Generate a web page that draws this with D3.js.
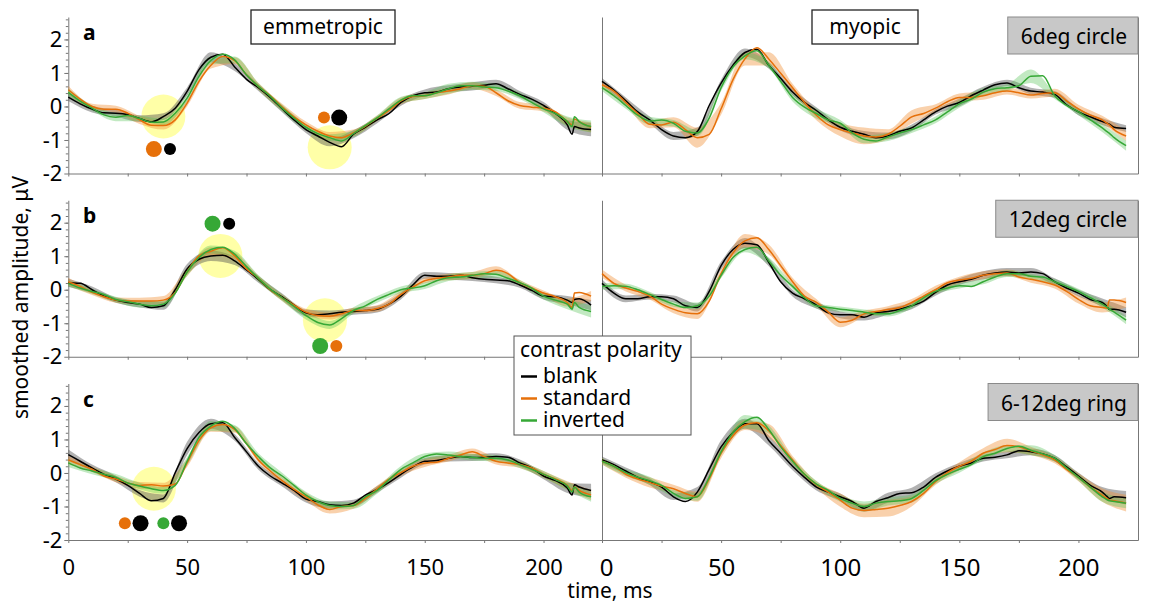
<!DOCTYPE html>
<html>
<head>
<meta charset="utf-8">
<script src="https://cdn.jsdelivr.net/npm/d3@7"></script>
<style>
  body { margin: 0; background: #fff; }
  svg { display: block; font-family: "Noto Sans", "Open Sans", sans-serif; }
</style>
</head>
<body>
<div id="plot"></div>
<script>
// sample times (ms)
var times = [0,5,10,15,20,25,30,35,40,45, 50,55,60,65,70,75,80,85,90,95,
  100,105,110,115,120,125,130,135,140,145, 150,155,160,165,170,175,180,185,190,195,
  200,205,210,212,213,215,220];
var bandTimes = [0,10,20,30,40,50,60,70,80,90,100,110,120,130,140,150,160,170,180,190,200,210,220];

var conditions = ["blank", "standard", "inverted"];
var groups = ["emmetropic", "myopic"];
var stimuli = ["6deg circle", "12deg circle", "6-12deg ring"];
var rowLetters = ["a", "b", "c"];
var yTicks = [-2, -1, 0, 1, 2];
var xTicks = [0, 25, 50, 75, 100, 125, 150, 175, 200];

// ---- emmetropic, 6deg circle (a)
var emm_a_blank = [0.28,0.08,-0.08,-0.19,-0.20,-0.24,-0.36,-0.46,-0.30,-0.05,
  0.45,1.10,1.47,1.56,1.18,0.81,0.56,0.27,-0.07,-0.40,
  -0.69,-0.88,-1.07,-1.20,-0.83,-0.62,-0.40,-0.21,0.12,0.32,
  0.41,0.43,0.53,0.58,0.60,0.63,0.68,0.53,0.36,0.22,
  0.03,-0.21,-0.55,-0.83,-0.60,-0.64,-0.69];
var emm_a_standard = [0.50,0.22,0.00,-0.08,-0.08,-0.20,-0.40,-0.56,-0.57,-0.40,
  0.10,0.75,1.23,1.49,1.37,0.94,0.60,0.32,-0.02,-0.31,
  -0.55,-0.74,-0.88,-0.93,-0.79,-0.59,-0.35,-0.12,0.17,0.30,
  0.32,0.41,0.46,0.53,0.62,0.60,0.41,0.17,0.03,-0.02,
  -0.05,-0.16,-0.45,-0.55,-0.37,-0.45,-0.62];
var emm_a_inverted = [0.42,0.16,-0.05,-0.25,-0.32,-0.27,-0.36,-0.47,-0.46,-0.20,
  0.25,0.90,1.37,1.56,1.39,0.94,0.60,0.30,-0.05,-0.35,
  -0.62,-0.81,-0.93,-1.03,-0.81,-0.57,-0.34,-0.07,0.19,0.32,
  0.32,0.41,0.53,0.62,0.62,0.58,0.56,0.46,0.32,0.12,
  -0.07,-0.21,-0.45,-0.60,-0.31,-0.45,-0.60];

// ---- emmetropic, 12deg circle (b)
var emm_b_blank = [0.21,0.19,0.00,-0.19,-0.31,-0.38,-0.43,-0.53,-0.48,0.00,
  0.62,0.91,1.01,1.03,0.86,0.59,0.31,0.00,-0.21,-0.46,
  -0.69,-0.75,-0.72,-0.67,-0.65,-0.62,-0.58,-0.43,-0.19,0.14,
  0.43,0.40,0.40,0.43,0.36,0.31,0.29,0.27,0.14,-0.02,
  -0.19,-0.21,-0.31,-0.38,-0.29,-0.27,-0.46];
var emm_b_standard = [0.24,0.10,-0.08,-0.21,-0.31,-0.34,-0.34,-0.34,-0.31,-0.08,
  0.53,1.01,1.15,1.25,1.01,0.62,0.34,0.00,-0.24,-0.46,
  -0.67,-0.77,-0.79,-0.72,-0.62,-0.62,-0.56,-0.43,-0.14,0.08,
  0.27,0.34,0.38,0.43,0.43,0.48,0.58,0.48,0.21,0.05,
  -0.10,-0.21,-0.38,-0.53,-0.10,-0.08,-0.19];
var emm_b_inverted = [0.19,0.05,-0.05,-0.14,-0.29,-0.36,-0.43,-0.48,-0.43,-0.10,
  0.53,0.96,1.20,1.27,1.06,0.69,0.34,0.02,-0.24,-0.50,
  -0.77,-0.98,-1.05,-0.86,-0.62,-0.48,-0.29,-0.14,0.00,0.05,
  0.12,0.27,0.36,0.38,0.43,0.48,0.46,0.34,0.21,0.05,
  -0.19,-0.31,-0.43,-0.58,-0.38,-0.53,-0.65];

// ---- emmetropic, 6-12deg ring (c)
var emm_c_blank = [0.55,0.35,0.15,-0.04,-0.18,-0.37,-0.61,-0.83,-0.76,0.01,
  0.73,1.21,1.47,1.50,1.06,0.63,0.20,-0.09,-0.30,-0.52,
  -0.78,-0.85,-0.95,-0.97,-0.90,-0.66,-0.49,-0.28,-0.04,0.18,
  0.35,0.37,0.44,0.49,0.46,0.47,0.49,0.47,0.30,0.15,
  -0.09,-0.23,-0.45,-0.66,-0.35,-0.42,-0.52];
var emm_c_standard = [0.39,0.25,0.11,-0.09,-0.18,-0.30,-0.37,-0.35,-0.39,-0.33,
  0.30,0.97,1.35,1.45,1.30,0.87,0.39,0.06,-0.23,-0.49,
  -0.71,-0.95,-1.09,-1.00,-0.97,-0.76,-0.47,-0.18,0.01,0.20,
  0.30,0.32,0.44,0.54,0.63,0.49,0.35,0.30,0.25,0.15,
  -0.04,-0.18,-0.37,-0.52,-0.42,-0.52,-0.66];
var emm_c_inverted = [0.30,0.15,0.06,-0.04,-0.13,-0.30,-0.39,-0.47,-0.52,-0.37,
  0.35,1.06,1.40,1.54,1.33,0.87,0.49,0.15,-0.09,-0.37,
  -0.66,-0.85,-0.97,-1.00,-0.97,-0.71,-0.52,-0.20,0.11,0.30,
  0.49,0.57,0.54,0.49,0.47,0.44,0.44,0.39,0.25,0.11,
  -0.04,-0.20,-0.39,-0.57,-0.42,-0.57,-0.71];

// ---- myopic, 6deg circle
var myo_a_blank = [0.75,0.49,0.17,-0.16,-0.40,-0.69,-0.88,-0.93,-0.75,0.03,
  0.70,1.23,1.61,1.71,1.23,0.84,0.43,0.12,-0.12,-0.40,
  -0.62,-0.74,-0.83,-0.93,-0.88,-0.74,-0.64,-0.40,-0.16,0.01,
  0.12,0.32,0.49,0.65,0.70,0.56,0.46,0.43,0.36,0.05,
  -0.16,-0.31,-0.45,-0.50,-0.53,-0.62,-0.66];
var myo_a_standard = [0.65,0.46,0.12,-0.21,-0.53,-0.55,-0.47,-0.69,-0.93,-0.83,
  -0.07,0.80,1.42,1.75,1.42,0.99,0.56,0.12,-0.26,-0.55,
  -0.69,-0.79,-0.88,-0.91,-0.83,-0.59,-0.31,-0.21,-0.05,0.14,
  0.27,0.27,0.32,0.41,0.46,0.41,0.34,0.39,0.41,0.17,
  -0.07,-0.26,-0.40,-0.50,-0.55,-0.69,-0.88];
var myo_a_inverted = [0.56,0.32,0.03,-0.26,-0.43,-0.40,-0.50,-0.74,-0.79,-0.35,
  0.56,1.18,1.51,1.66,1.23,0.75,0.27,-0.02,-0.21,-0.40,
  -0.50,-0.79,-0.98,-1.03,-0.91,-0.79,-0.69,-0.55,-0.40,-0.16,
  0.08,0.22,0.43,0.53,0.56,0.62,0.90,0.92,0.32,0.03,
  -0.16,-0.40,-0.64,-0.75,-0.80,-0.93,-1.17];

// ---- myopic, 12deg circle
var myo_b_blank = [0.19,-0.10,-0.27,-0.27,-0.21,-0.21,-0.27,-0.48,-0.53,-0.05,
  0.72,1.20,1.39,1.34,0.82,0.24,-0.10,-0.27,-0.46,-0.69,
  -0.75,-0.75,-0.82,-0.69,-0.65,-0.58,-0.48,-0.34,-0.08,0.14,
  0.24,0.31,0.43,0.50,0.53,0.50,0.53,0.48,0.24,0.05,
  -0.10,-0.29,-0.38,-0.50,-0.59,-0.58,-0.67];
var myo_b_standard = [0.48,0.19,0.05,-0.05,-0.19,-0.43,-0.58,-0.69,-0.72,-0.34,
  0.48,1.10,1.46,1.55,1.20,0.72,0.24,-0.19,-0.38,-0.67,
  -0.97,-0.91,-0.72,-0.65,-0.59,-0.53,-0.38,-0.19,0.00,0.21,
  0.29,0.34,0.43,0.48,0.50,0.38,0.31,0.24,0.14,-0.05,
  -0.29,-0.48,-0.53,-0.55,-0.31,-0.31,-0.38];
var myo_b_inverted = [0.10,0.12,0.10,0.00,-0.14,-0.29,-0.43,-0.53,-0.48,-0.19,
  0.43,0.96,1.20,1.27,0.86,0.43,0.10,-0.24,-0.48,-0.53,
  -0.58,-0.62,-0.67,-0.72,-0.72,-0.62,-0.48,-0.24,-0.05,0.05,
  0.12,0.10,0.24,0.38,0.48,0.48,0.40,0.38,0.24,0.10,
  -0.05,-0.24,-0.43,-0.52,-0.58,-0.67,-0.91];

// ---- myopic, 6-12deg ring
var myo_c_blank = [0.39,0.25,0.06,-0.13,-0.26,-0.42,-0.71,-0.85,-0.57,0.11,
  0.78,1.21,1.47,1.47,0.97,0.59,0.20,-0.13,-0.42,-0.57,
  -0.71,-0.85,-1.05,-0.85,-0.74,-0.61,-0.59,-0.42,-0.13,0.06,
  0.20,0.30,0.44,0.47,0.54,0.66,0.63,0.57,0.44,0.18,
  -0.09,-0.37,-0.57,-0.70,-0.76,-0.71,-0.74];
var myo_c_standard = [0.35,0.20,-0.04,-0.18,-0.28,-0.39,-0.47,-0.61,-0.71,-0.18,
  0.59,1.11,1.43,1.50,1.26,0.82,0.39,-0.04,-0.35,-0.57,
  -0.81,-1.05,-1.12,-1.09,-1.05,-0.97,-0.85,-0.61,-0.26,0.01,
  0.20,0.35,0.59,0.70,0.82,0.78,0.66,0.54,0.39,0.11,
  -0.13,-0.42,-0.66,-0.76,-0.81,-0.83,-0.90];
var myo_c_inverted = [0.35,0.20,0.01,-0.13,-0.23,-0.37,-0.61,-0.76,-0.71,-0.13,
  0.63,1.21,1.53,1.66,1.30,0.78,0.35,-0.04,-0.33,-0.52,
  -0.76,-0.90,-1.00,-0.90,-0.85,-0.83,-0.76,-0.52,-0.23,-0.04,
  0.11,0.25,0.49,0.59,0.73,0.80,0.68,0.57,0.44,0.15,
  -0.13,-0.42,-0.71,-0.80,-0.83,-0.85,-0.90];

// spread (half width of the shaded band) at bandTimes
var emm_a_blank_sd    = [0.12,0.10,0.10,0.10,0.10,0.12,0.15,0.12,0.10,0.10,0.10,0.12,0.12,0.10,0.10,0.10,0.10,0.12,0.12,0.10,0.10,0.15,0.20];
var emm_a_standard_sd = [0.12,0.08,0.10,0.12,0.12,0.10,0.10,0.10,0.10,0.10,0.10,0.12,0.10,0.08,0.10,0.10,0.10,0.10,0.10,0.10,0.10,0.12,0.15];
var emm_a_inverted_sd = [0.12,0.08,0.12,0.08,0.10,0.12,0.12,0.10,0.10,0.10,0.10,0.10,0.10,0.08,0.10,0.10,0.15,0.12,0.10,0.10,0.10,0.15,0.18];
var emm_b_blank_sd    = [0.12,0.10,0.08,0.10,0.12,0.15,0.15,0.12,0.10,0.10,0.10,0.10,0.10,0.10,0.10,0.10,0.10,0.10,0.10,0.08,0.10,0.12,0.15];
var emm_b_standard_sd = [0.12,0.08,0.08,0.10,0.12,0.12,0.12,0.10,0.08,0.10,0.10,0.10,0.08,0.10,0.10,0.08,0.10,0.10,0.12,0.08,0.08,0.12,0.15];
var emm_b_inverted_sd = [0.10,0.08,0.08,0.10,0.10,0.12,0.12,0.10,0.10,0.10,0.12,0.12,0.10,0.10,0.10,0.10,0.10,0.10,0.10,0.08,0.10,0.15,0.18];
var emm_c_blank_sd    = [0.15,0.10,0.10,0.10,0.12,0.20,0.15,0.10,0.10,0.10,0.10,0.10,0.10,0.10,0.10,0.10,0.10,0.10,0.10,0.10,0.10,0.15,0.20];
var emm_c_standard_sd = [0.12,0.08,0.10,0.10,0.10,0.12,0.12,0.10,0.08,0.10,0.12,0.12,0.10,0.10,0.10,0.12,0.10,0.10,0.10,0.10,0.10,0.12,0.15];
var emm_c_inverted_sd = [0.12,0.10,0.10,0.10,0.10,0.12,0.15,0.10,0.10,0.10,0.10,0.12,0.10,0.10,0.10,0.10,0.10,0.10,0.10,0.10,0.10,0.12,0.15];
var myo_a_blank_sd    = [0.10,0.10,0.10,0.12,0.12,0.10,0.12,0.10,0.10,0.10,0.10,0.10,0.10,0.10,0.08,0.12,0.10,0.10,0.10,0.10,0.10,0.10,0.10];
var myo_a_standard_sd = [0.12,0.10,0.12,0.15,0.30,0.18,0.20,0.20,0.12,0.15,0.20,0.25,0.15,0.20,0.12,0.12,0.12,0.10,0.10,0.12,0.12,0.12,0.15];
var myo_a_inverted_sd = [0.10,0.10,0.12,0.10,0.10,0.10,0.10,0.10,0.12,0.15,0.10,0.12,0.12,0.10,0.10,0.12,0.12,0.10,0.20,0.10,0.10,0.12,0.15];
var myo_b_blank_sd    = [0.12,0.10,0.08,0.10,0.12,0.12,0.15,0.12,0.10,0.10,0.10,0.10,0.10,0.10,0.10,0.10,0.12,0.12,0.12,0.10,0.10,0.12,0.15];
var myo_b_standard_sd = [0.12,0.10,0.10,0.12,0.15,0.12,0.20,0.15,0.12,0.10,0.15,0.10,0.10,0.10,0.12,0.10,0.12,0.10,0.10,0.10,0.12,0.15,0.15];
var myo_b_inverted_sd = [0.10,0.08,0.08,0.08,0.10,0.08,0.08,0.10,0.08,0.08,0.08,0.08,0.08,0.08,0.08,0.08,0.08,0.10,0.08,0.08,0.08,0.10,0.12];
var myo_c_blank_sd    = [0.10,0.10,0.10,0.10,0.15,0.20,0.15,0.15,0.12,0.10,0.10,0.10,0.15,0.15,0.12,0.10,0.10,0.10,0.10,0.10,0.10,0.15,0.20];
var myo_c_standard_sd = [0.10,0.10,0.15,0.12,0.15,0.15,0.15,0.20,0.12,0.10,0.20,0.20,0.25,0.15,0.10,0.12,0.15,0.20,0.12,0.10,0.12,0.20,0.25];
var myo_c_inverted_sd = [0.10,0.10,0.12,0.10,0.12,0.10,0.20,0.12,0.10,0.10,0.10,0.15,0.12,0.12,0.10,0.10,0.12,0.10,0.15,0.10,0.10,0.15,0.15];

// yellow highlighted windows (emmetropic panels)
var hlRow   = [0, 0, 1, 1, 2];
var hlTime  = [40, 110, 64, 108, 36];
var hlValue = [-0.30, -1.22, 1.01, -0.91, -0.47];

// significance dots
var dotRow   = [0, 0, 0, 0, 1, 1, 1, 1, 2, 2, 2, 2];
var dotTime  = [36, 42.8, 107.6, 114, 60.7, 67.7, 106, 112.8, 23.8, 30.4, 40, 46.6];
var dotValue = [-1.27, -1.27, -0.33, -0.33, 1.97, 1.97, -1.68, -1.68, -1.5, -1.5, -1.5, -1.5];
var dotCond  = ["standard","blank","standard","blank","inverted","blank","inverted","standard","standard","blank","inverted","blank"];
var dotLarge = [1, 0, 0, 1, 1, 0, 1, 0, 0, 1, 0, 1];

var meanData = [
  [[emm_a_blank, emm_a_standard, emm_a_inverted], [myo_a_blank, myo_a_standard, myo_a_inverted]],
  [[emm_b_blank, emm_b_standard, emm_b_inverted], [myo_b_blank, myo_b_standard, myo_b_inverted]],
  [[emm_c_blank, emm_c_standard, emm_c_inverted], [myo_c_blank, myo_c_standard, myo_c_inverted]]
];
var sdData = [
  [[emm_a_blank_sd, emm_a_standard_sd, emm_a_inverted_sd], [myo_a_blank_sd, myo_a_standard_sd, myo_a_inverted_sd]],
  [[emm_b_blank_sd, emm_b_standard_sd, emm_b_inverted_sd], [myo_b_blank_sd, myo_b_standard_sd, myo_b_inverted_sd]],
  [[emm_c_blank_sd, emm_c_standard_sd, emm_c_inverted_sd], [myo_c_blank_sd, myo_c_standard_sd, myo_c_inverted_sd]]
];

var lineColor = {blank: "#000000", standard: "#e6700a", inverted: "#36a836"};
var bandColor = {blank: "#555555", standard: "#f08c30", inverted: "#50c050"};
var bandOpacity = {blank: 0.45, standard: 0.4, inverted: 0.35};
var axisColor = "#777";
var fontFam = '"Noto Sans", "Open Sans", sans-serif';

var svg = d3.select("#plot").append("svg").attr("width", 1149).attr("height", 606);

const rowTop = [17, 200.25, 383.5];
const rowH = 156.5;
const xScales = [
  d3.scaleLinear().domain([0, 224.6]).range([68.3, 602]),
  d3.scaleLinear().domain([0, 225]).range([602, 1138])
];

function styleAxis(g, size) {
  g.selectAll("path, line").attr("stroke", axisColor).attr("stroke-width", 1);
  g.selectAll("text").attr("fill", "#000").style("font-family", fontFam).style("font-size", size + "px");
}

for (var r = 0; r < 3; r++) {
  var y = d3.scaleLinear().domain([-2, 2.67]).range([rowTop[r] + rowH, rowTop[r]]);
  var bottom = rowTop[r] + rowH;

  // y axis with labels on the left panel
  var yAxis = d3.axisLeft(y).tickValues(yTicks).tickSize(4).tickSizeOuter(0).tickPadding(2).tickFormat(function(d) { return String(d); });
  var gy = svg.append("g").attr("transform", "translate(" + xScales[0](0) + ",0)").call(yAxis);
  styleAxis(gy, 22);
  var minor = d3.range(-18, 27, 2).map(function(d) { return d / 10; });
  var gym = svg.append("g").attr("transform", "translate(" + xScales[0](0) + ",0)")
    .call(d3.axisLeft(y).tickValues(minor).tickSize(2.5).tickFormat(""));
  gym.select(".domain").remove();
  styleAxis(gym, 10);

  // right panel frame lines
  svg.append("g").attr("transform", "translate(" + xScales[1](0) + ",0)")
    .call(d3.axisLeft(y).tickValues([]).tickSizeOuter(0)).call(styleAxis, 10);
  svg.append("g").attr("transform", "translate(" + xScales[1].range()[1] + ",0)")
    .call(d3.axisRight(y).tickValues([]).tickSizeOuter(0)).call(styleAxis, 10);

  // x axes
  for (var g = 0; g < 2; g++) {
    var xa = d3.axisBottom(xScales[g]).tickValues(xTicks).tickSize(3).tickSizeOuter(0).tickPadding(16)
      .tickFormat(r === 2 ? function(d) { return d % 50 === 0 ? d : ""; } : function() { return ""; });
    var gx = svg.append("g").attr("transform", "translate(0," + bottom + ")").call(xa);
    styleAxis(gx, g === 0 ? 22 : 24);
    if (r === 2 && g === 1) gx.selectAll(".tick text").filter(function(d) { return d === 0; }).attr("dx", 4);
  }

  // panel letter
  svg.append("text").attr("x", 83).attr("y", rowTop[r] + 23).text(rowLetters[r])
    .style("font-family", fontFam).style("font-size", "21px").style("font-weight", "bold");

  for (var g = 0; g < 2; g++) {
    var x = xScales[g];
    var panel = svg.append("g");

    // yellow windows below the traces
    if (g === 0) {
      hlRow.forEach(function(row, i) {
        if (row !== r) return;
        panel.append("circle").attr("cx", x(hlTime[i])).attr("cy", y(hlValue[i])).attr("r", 22)
          .attr("fill", "#ffff50").attr("opacity", 0.5);
      });
    }

    conditions.forEach(function(c, ci) {
      var mean = meanData[r][g][ci];
      var sd = sdData[r][g][ci];
      var bandPts = bandTimes.map(function(t, i) {
        return {t: t, m: mean[times.indexOf(t)], s: sd[i]};
      });
      var area = d3.area().curve(d3.curveMonotoneX)
        .x(function(d) { return x(d.t); })
        .y0(function(d) { return y(d.m - d.s); })
        .y1(function(d) { return y(d.m + d.s); });
      panel.append("path").datum(bandPts).attr("d", area)
        .attr("fill", bandColor[c]).attr("opacity", bandOpacity[c]);
    });

    conditions.forEach(function(c, ci) {
      var mean = meanData[r][g][ci];
      var line = d3.line().curve(d3.curveMonotoneX)
        .x(function(d, i) { return x(times[i]); })
        .y(function(d) { return y(d); });
      panel.append("path").datum(mean).attr("d", line)
        .attr("fill", "none").attr("stroke", lineColor[c]).attr("stroke-width", 1.5);
    });

    if (g === 0) {
      dotRow.forEach(function(row, i) {
        if (row !== r) return;
        panel.append("circle").attr("cx", x(dotTime[i])).attr("cy", y(dotValue[i]))
          .attr("r", dotLarge[i] ? 8 : 6).attr("fill", lineColor[dotCond[i]]);
      });
    }
  }

  // stimulus label (gray box, top right)
  var lab = svg.append("g");
  var lt = lab.append("text").attr("x", 1127).attr("y", rowTop[r] + 27).attr("text-anchor", "end")
    .style("font-family", fontFam).style("font-size", "21px").text(stimuli[r]);
  var bw = lt.node().getBBox().width + 24;
  lab.insert("rect", "text").attr("x", 1138 - bw).attr("y", rowTop[r]).attr("width", bw).attr("height", 37)
    .attr("fill", "#c8c8c8").attr("stroke", "#8a8a8a").attr("stroke-width", 1);
}

// group titles
var groupBox = [[251, 395], [812, 918]];
groups.forEach(function(name, i) {
  svg.append("rect").attr("x", groupBox[i][0]).attr("y", 10).attr("width", groupBox[i][1] - groupBox[i][0]).attr("height", 34)
    .attr("fill", "#fff").attr("stroke", "#222").attr("stroke-width", 1.3);
  svg.append("text").attr("x", (groupBox[i][0] + groupBox[i][1]) / 2).attr("y", 34).attr("text-anchor", "middle")
    .style("font-family", fontFam).style("font-size", "21px").text(name);
});

// axis titles
svg.append("text").attr("transform", "translate(28,297.5) rotate(-90)").attr("text-anchor", "middle")
  .style("font-family", fontFam).style("font-size", "21px").text("smoothed amplitude, μV");
svg.append("text").attr("x", 610).attr("y", 598).attr("text-anchor", "middle")
  .style("font-family", fontFam).style("font-size", "21px").text("time, ms");

// legend
var leg = svg.append("g");
leg.append("rect").attr("x", 514).attr("y", 336).attr("width", 177).attr("height", 99)
  .attr("fill", "#fff").attr("stroke", "#555").attr("stroke-width", 1);
leg.append("text").attr("x", 520).attr("y", 357).style("font-family", fontFam).style("font-size", "21px").text("contrast polarity");
conditions.forEach(function(c, i) {
  var yy = 376.5 + i * 22;
  leg.append("line").attr("x1", 521).attr("x2", 537).attr("y1", yy).attr("y2", yy)
    .attr("stroke", lineColor[c]).attr("stroke-width", 2.5);
  leg.append("text").attr("x", 543).attr("y", yy + 6).style("font-family", fontFam).style("font-size", "21px").text(c);
});
</script>
</body>
</html>
